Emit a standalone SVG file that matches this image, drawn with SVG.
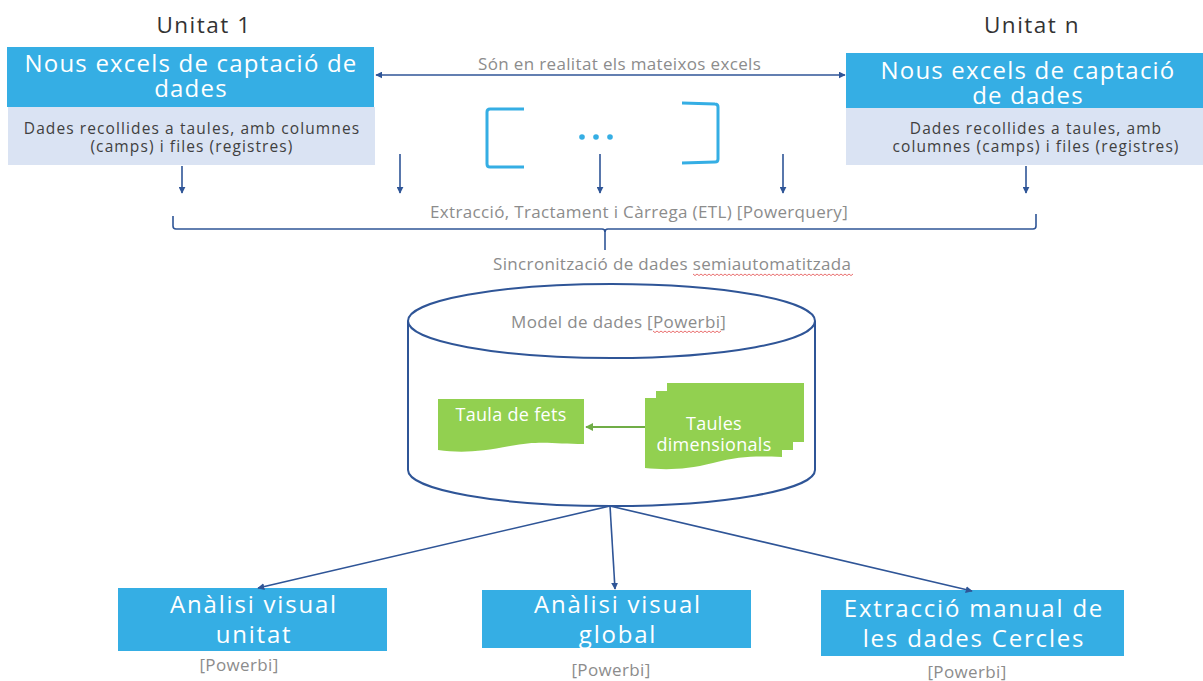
<svg xmlns="http://www.w3.org/2000/svg" width="1203" height="681" viewBox="0 0 1203 681">
<defs>
<style>
.t{font-family:"Open Sans","Liberation Sans",sans-serif;}
.unit{font-size:22.5px;fill:#333333;letter-spacing:1.5px;}
.head{font-size:24px;fill:#ffffff;letter-spacing:1.2px;}
.sub{font-size:15.5px;fill:#404040;letter-spacing:1.1px;}
.gray{font-size:17px;fill:#8c8c8c;letter-spacing:0.35px;}
.green{font-size:18px;fill:#ffffff;letter-spacing:0.3px;}
.bhead{font-size:24px;fill:#ffffff;letter-spacing:1.8px;}
.blue{fill:#35aee4;}
.light{fill:#dae3f3;}
.conn{stroke:#2f5597;stroke-width:1.6;fill:none;}
.gfill{fill:#92d050;}
.spell{stroke:#e03030;stroke-width:0.7;fill:none;}
</style>
<marker id="ah" viewBox="0 0 10 10" refX="9" refY="5" markerWidth="7" markerHeight="7" orient="auto-start-reverse" markerUnits="userSpaceOnUse">
<path d="M0,0 L10,5 L0,10 Z" fill="#2f5597"/>
</marker>
<marker id="gah" viewBox="0 0 10 10" refX="9" refY="5" markerWidth="8" markerHeight="8" orient="auto" markerUnits="userSpaceOnUse">
<path d="M0,0 L10,5 L0,10 Z" fill="#70ad47"/>
</marker>
</defs>

<g id="unit1">
<text class="t unit" x="204" y="33" text-anchor="middle">Unitat 1</text>
<rect class="blue" x="7" y="47" width="367" height="60"/>
<rect class="light" x="8" y="107" width="367" height="58"/>
<text class="t head" x="191" y="72" text-anchor="middle">Nous excels de captació de</text>
<text class="t head" x="191" y="97" text-anchor="middle">dades</text>
<text class="t sub" x="192" y="134" text-anchor="middle">Dades recollides a taules, amb columnes</text>
<text class="t sub" x="192" y="152" text-anchor="middle">(camps) i files (registres)</text>
</g>

<g id="unitn">
<text class="t unit" x="1032" y="33" text-anchor="middle">Unitat n</text>
<rect class="blue" x="846" y="53" width="357" height="55"/>
<rect class="light" x="846" y="108" width="357" height="57"/>
<text class="t head" x="1028" y="79" text-anchor="middle">Nous excels de captació</text>
<text class="t head" x="1028" y="104" text-anchor="middle">de dades</text>
<text class="t sub" x="1036" y="134" text-anchor="middle">Dades recollides a taules, amb</text>
<text class="t sub" x="1036" y="152" text-anchor="middle">columnes (camps) i files (registres)</text>
</g>

<g id="ellipsis">
<path d="M524,109 L490,109 Q487,109 487,112 L487,164 Q487,167 490,167 L524,167" fill="none" stroke="#35aee4" stroke-width="3"/>
<path d="M682,103 L715,104 Q718,104 718,107 L718,159 Q718,162 715,162 L682,163" fill="none" stroke="#35aee4" stroke-width="3"/>
<circle cx="582" cy="137" r="2.8" fill="#35aee4"/>
<circle cx="596" cy="137" r="2.8" fill="#35aee4"/>
<circle cx="610" cy="137" r="2.8" fill="#35aee4"/>
</g>

<g id="labels">
<text class="t gray" x="478" y="70">Són en realitat els mateixos excels</text>
<text class="t gray" x="430" y="218">Extracció, Tractament i Càrrega (ETL) [Powerquery]</text>
<text class="t gray" x="493" y="270">Sincronització de dades semiautomatitzada</text>
<path class="spell" d="M693,274 l2,1.6 l2,-1.6 l2,1.6 l2,-1.6 l2,1.6 l2,-1.6 l2,1.6 l2,-1.6 l2,1.6 l2,-1.6 l2,1.6 l2,-1.6 l2,1.6 l2,-1.6 l2,1.6 l2,-1.6 l2,1.6 l2,-1.6 l2,1.6 l2,-1.6 l2,1.6 l2,-1.6 l2,1.6 l2,-1.6 l2,1.6 l2,-1.6 l2,1.6 l2,-1.6 l2,1.6 l2,-1.6 l2,1.6 l2,-1.6 l2,1.6 l2,-1.6 l2,1.6 l2,-1.6 l2,1.6 l2,-1.6 l2,1.6 l2,-1.6 l2,1.6 l2,-1.6 l2,1.6 l2,-1.6 l2,1.6 l2,-1.6 l2,1.6 l2,-1.6 l2,1.6 l2,-1.6 l2,1.6 l2,-1.6 l2,1.6 l2,-1.6 l2,1.6 l2,-1.6 l2,1.6 l2,-1.6 l2,1.6 l2,-1.6 l2,1.6 l2,-1.6 l2,1.6 l2,-1.6 l2,1.6 l2,-1.6 l2,1.6 l2,-1.6 l2,1.6 l2,-1.6 l2,1.6 l2,-1.6 l2,1.6 l2,-1.6 l2,1.6 l2,-1.6 l2,1.6 l2,-1.6 l2,1.6 l2,-1.6"/>
</g>

<g id="datamodel">
<path d="M408,321 L408,470 A203,36 0 0 0 815,470 L815,321" fill="#ffffff" stroke="#2f5597" stroke-width="2"/>
<ellipse cx="611.5" cy="321" rx="203.5" ry="37" fill="#ffffff" stroke="#2f5597" stroke-width="2"/>
<text class="t gray" x="511" y="328">Model de dades [Powerbi]</text>
<path class="spell" d="M653,331 l2,1.6 l2,-1.6 l2,1.6 l2,-1.6 l2,1.6 l2,-1.6 l2,1.6 l2,-1.6 l2,1.6 l2,-1.6 l2,1.6 l2,-1.6 l2,1.6 l2,-1.6 l2,1.6 l2,-1.6 l2,1.6 l2,-1.6 l2,1.6 l2,-1.6 l2,1.6 l2,-1.6 l2,1.6 l2,-1.6 l2,1.6 l2,-1.6 l2,1.6 l2,-1.6 l2,1.6 l2,-1.6 l2,1.6 l2,-1.6 l2,1.6 l2,-1.6"/>
</g>

<g id="taula-fets">
<path class="gfill" d="M438,399 L584,399 L584,444 C555,444 540,440 510,446 C480,452 460,453 438,450 Z"/>
<text class="t green" x="511" y="421" text-anchor="middle">Taula de fets</text>
</g>

<g id="taules-dimensionals">
<path class="gfill" d="M667,383 L804,383 L804,442 L793,442 L793,391 L667,391 Z"/>
<path class="gfill" d="M656,391 L793,391 L793,450 L782,450 L782,398 L656,398 Z"/>
<path class="gfill" d="M645,398 L782,398 L782,457 C755,456 740,456 713,463 C685,470 665,470 645,468 Z"/>
<text class="t green" x="714" y="430" text-anchor="middle">Taules</text>
<text class="t green" x="714" y="451" text-anchor="middle">dimensionals</text>
</g>

<g id="out-unitat">
<rect class="blue" x="118" y="588" width="269" height="63"/>
<text class="t bhead" x="254" y="613" text-anchor="middle">Anàlisi visual</text>
<text class="t bhead" x="254" y="643" text-anchor="middle">unitat</text>
<text class="t gray" x="239" y="671" text-anchor="middle">[Powerbi]</text>
</g>

<g id="out-global">
<rect class="blue" x="482" y="590" width="269" height="58"/>
<text class="t bhead" x="618" y="613" text-anchor="middle">Anàlisi visual</text>
<text class="t bhead" x="618" y="643" text-anchor="middle">global</text>
<text class="t gray" x="611" y="676" text-anchor="middle">[Powerbi]</text>
</g>

<g id="out-extraccio">
<rect class="blue" x="821" y="590" width="303" height="66"/>
<text class="t bhead" x="974" y="617" text-anchor="middle">Extracció manual de</text>
<text class="t bhead" x="974" y="647" text-anchor="middle">les dades Cercles</text>
<text class="t gray" x="967" y="678" text-anchor="middle">[Powerbi]</text>
</g>

<g id="connectors">
<line class="conn" x1="376" y1="75" x2="845" y2="75" marker-start="url(#ah)" marker-end="url(#ah)"/>
<line class="conn" x1="182" y1="166" x2="182" y2="193" marker-end="url(#ah)"/>
<line class="conn" x1="400" y1="154" x2="400" y2="193" marker-end="url(#ah)"/>
<line class="conn" x1="600" y1="154" x2="600" y2="193" marker-end="url(#ah)"/>
<line class="conn" x1="783" y1="154" x2="783" y2="193" marker-end="url(#ah)"/>
<line class="conn" x1="1026" y1="166" x2="1026" y2="193" marker-end="url(#ah)"/>
<path class="conn" d="M173,216 L173,226 Q173,229 176,229 L602,229 Q605,229 605,232 Q605,229 608,229 L1033,229 Q1036,229 1036,226 L1036,214"/>
<line class="conn" x1="605" y1="229" x2="605" y2="250"/>
<line x1="645" y1="427" x2="586" y2="427" stroke="#70ad47" stroke-width="1.8" marker-end="url(#gah)"/>
<line class="conn" x1="610" y1="506" x2="258" y2="588" marker-end="url(#ah)"/>
<line class="conn" x1="610" y1="506" x2="615" y2="589" marker-end="url(#ah)"/>
<line class="conn" x1="610" y1="506" x2="972" y2="591" marker-end="url(#ah)"/>
</g>
</svg>
